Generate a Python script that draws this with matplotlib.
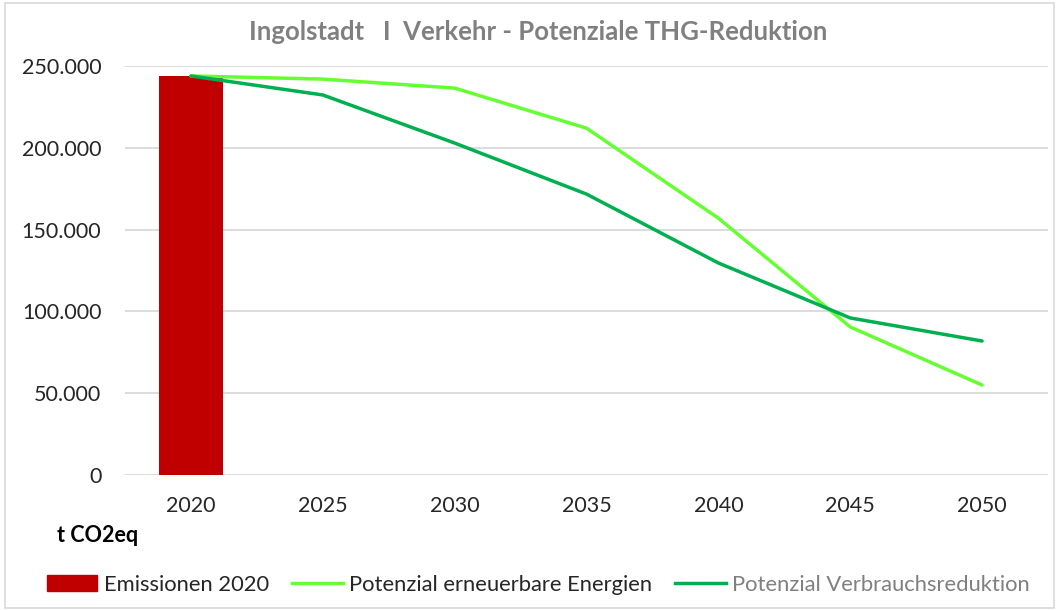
import matplotlib
matplotlib.use("Agg")
import matplotlib.pyplot as plt
from matplotlib.patches import Rectangle, Patch
from matplotlib.lines import Line2D
from matplotlib.ticker import FuncFormatter

jahre = ["2020", "2025", "2030", "2035", "2040", "2045", "2050"]
emissionen_2020 = 243900
erneuerbare = [243900, 242000, 236500, 212000, 157000, 90500, 55000]
verbrauch = [243900, 232300, 202900, 171700, 129600, 96000, 81900]

plt.rcParams['font.family'] = ['Lato', 'DejaVu Sans']

fig = plt.figure(figsize=(10.59, 6.10), dpi=100)
ax = fig.add_axes([125 / 1059, 1 - 475 / 610, 923 / 1059, 409 / 610])

x = list(range(len(jahre)))
ax.bar([0], [emissionen_2020], width=0.49, color="#C00000", zorder=2)
ax.plot(x, erneuerbare, color="#66FF33", lw=2.5, zorder=3, solid_capstyle="round")
ax.plot(x, verbrauch, color="#00B050", lw=2.5, zorder=3, solid_capstyle="round")

ax.set_xlim(-0.5, len(jahre) - 0.5)
ax.set_ylim(0, 250000)
ax.set_yticks(range(0, 250001, 50000))
ax.yaxis.set_major_formatter(FuncFormatter(lambda v, p: f"{int(v):,}".replace(",", ".")))
ax.set_xticks(x)
ax.set_xticklabels(jahre)
ax.grid(axis="y", color="#d9d9d9", lw=1.3, zorder=0)
ax.set_axisbelow(True)
for s in ax.spines.values():
    s.set_visible(False)
ax.tick_params(length=0, labelsize=15.5, colors="#262626")
ax.tick_params(axis="y", pad=17)
ax.tick_params(axis="x", pad=15)

fig.text(538 / 1059, 1 - 32 / 610, "Ingolstadt   I  Verkehr - Potenziale THG-Reduktion",
         ha="center", va="center", fontsize=18.5, fontweight="bold", color="#808080")
fig.text(57 / 1059, 1 - 536 / 610, "t CO2eq", ha="left", va="center",
         fontsize=15.5, fontweight="bold", color="#000000")

handles = [Patch(color="#C00000"),
           Line2D([], [], color="#66FF33", lw=2.5),
           Line2D([], [], color="#00B050", lw=2.5)]
labels = ["Emissionen 2020", "Potenzial erneuerbare Energien", "Potenzial Verbrauchsreduktion"]
leg = fig.legend(handles, labels, loc="center left", bbox_to_anchor=(47 / 1059, 1 - 585 / 610),
                 ncol=3, frameon=False, fontsize=15.8, handlelength=2.3, handleheight=0.75,
                 columnspacing=1.05, handletextpad=0.3, borderaxespad=0, borderpad=0)
for t in leg.get_texts()[:2]:
    t.set_color("#262626")
leg.get_texts()[2].set_color("#808080")

fig.patches.append(Rectangle((5 / 1059, 2 / 610), 1049 / 1059, 605 / 610,
                             transform=fig.transFigure, fill=False,
                             edgecolor="#d9d9d9", lw=1.2))

fig.savefig("out.png", dpi=100)
